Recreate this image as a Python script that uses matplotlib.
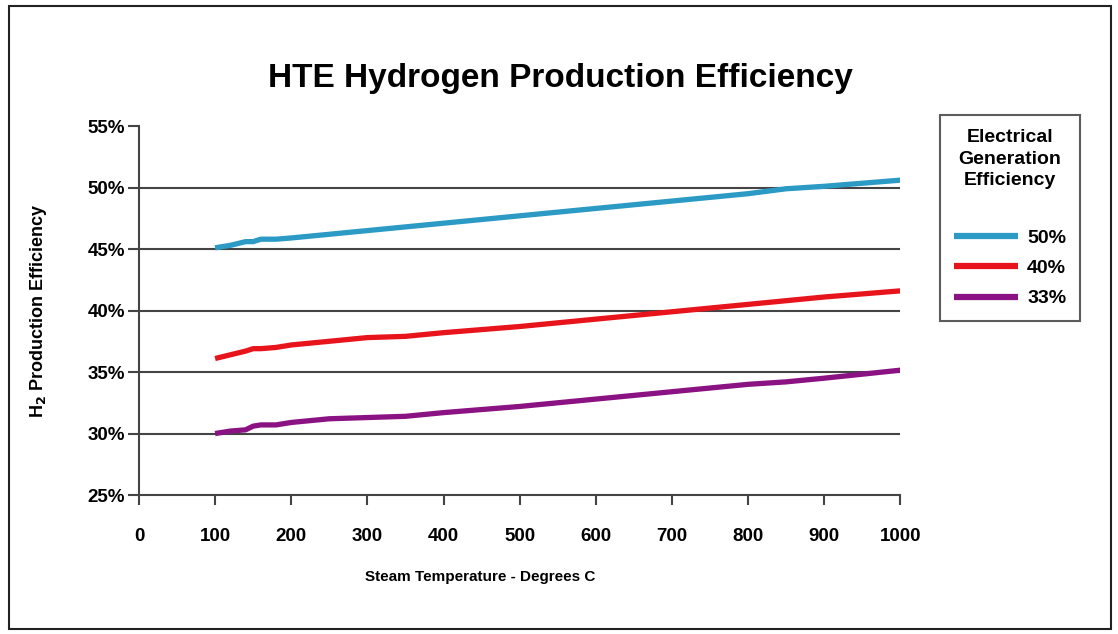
import matplotlib.pyplot as plt
from matplotlib.patches import Rectangle

plt.rcParams['font.family'] = ['Liberation Sans', 'DejaVu Sans']
plt.rcParams['font.weight'] = 'bold'

# Steam temperature (deg C)
temp = [100, 120, 140, 150, 160, 180, 200, 250, 300, 350, 400, 500, 600, 700, 800, 850, 900, 1000]
# H2 production efficiency (%) for each electrical generation efficiency
eff_50 = [45.1, 45.3, 45.6, 45.6, 45.8, 45.8, 45.9, 46.2, 46.5, 46.8, 47.1, 47.7, 48.3, 48.9, 49.5, 49.9, 50.1, 50.6]
eff_40 = [36.1, 36.4, 36.7, 36.9, 36.9, 37.0, 37.2, 37.5, 37.8, 37.9, 38.2, 38.7, 39.3, 39.9, 40.5, 40.8, 41.1, 41.6]
eff_33 = [30.0, 30.2, 30.3, 30.6, 30.7, 30.7, 30.9, 31.2, 31.3, 31.4, 31.7, 32.2, 32.8, 33.4, 34.0, 34.2, 34.5, 35.15]

series = [("50%", eff_50, "#2b9ac4"), ("40%", eff_40, "#e8141b"), ("33%", eff_33, "#8b1283")]

x_ticks = [0, 100, 200, 300, 400, 500, 600, 700, 800, 900, 1000]
y_ticks = [25, 30, 35, 40, 45, 50, 55]

fig = plt.figure(figsize=(11.18, 6.34), dpi=100)
fig.patches.append(Rectangle((0.008, 0.008), 0.986, 0.982, transform=fig.transFigure,
                             fill=False, edgecolor='#222222', linewidth=1.5))

ax = fig.add_axes([0.1243, 0.2192, 0.6810, 0.5820])
ax.set_xlim(0, 1000)
ax.set_ylim(25, 55)

# horizontal grid lines (not at top)
for y in y_ticks[1:-1]:
    ax.axhline(y, color='#444444', linewidth=1.5, zorder=1)

for label, vals, col in series:
    ax.plot(temp, vals, color=col, linewidth=3.8, label=label, zorder=3, solid_capstyle='butt')

for s in ['top', 'right']:
    ax.spines[s].set_visible(False)
ax.spines['left'].set_color('#444444')
ax.spines['bottom'].set_color('#444444')
ax.spines['left'].set_linewidth(1.5)
ax.spines['bottom'].set_linewidth(1.5)

ax.set_xticks(x_ticks)
ax.set_xticklabels([str(v) for v in x_ticks], fontsize=13.5, fontweight='bold')
ax.set_yticks(y_ticks)
ax.set_yticklabels([f"{v}%" for v in y_ticks], fontsize=13.5, fontweight='bold')
ax.tick_params(axis='both', color='#444444', width=1.5)
ax.tick_params(axis='x', length=7, pad=17)
ax.tick_params(axis='y', length=8, pad=2)

ax.set_xlabel("Steam Temperature - Degrees C", fontsize=11, fontweight='bold', labelpad=18, x=0.448)
ax.set_ylabel("H$_\\mathbf{2}$ Production Efficiency", fontsize=13, fontweight='bold', labelpad=28)
ax.set_title("HTE Hydrogen Production Efficiency", fontsize=24, fontweight='bold', pad=28, x=0.553)

leg = fig.legend(loc='upper left', bbox_to_anchor=(0.8408, 0.8186), borderaxespad=0,
                 frameon=True, title="Electrical\nGeneration\nEfficiency", fontsize=14,
                 title_fontsize=14, handlelength=3.3, labelspacing=0.65,
                 handletextpad=0.46, borderpad=0.72, fancybox=False, edgecolor='#333333')
leg.get_frame().set_linewidth(1.5)
leg.get_title().set_fontweight('bold')
leg.get_title().set_multialignment('center')
leg.get_title().set_linespacing(1.35)
leg._legend_box.sep = 29
for t in leg.get_texts():
    t.set_fontweight('bold')
for h in leg.legend_handles:
    h.set_linewidth(4.5)

fig.savefig("out.png", dpi=100)
